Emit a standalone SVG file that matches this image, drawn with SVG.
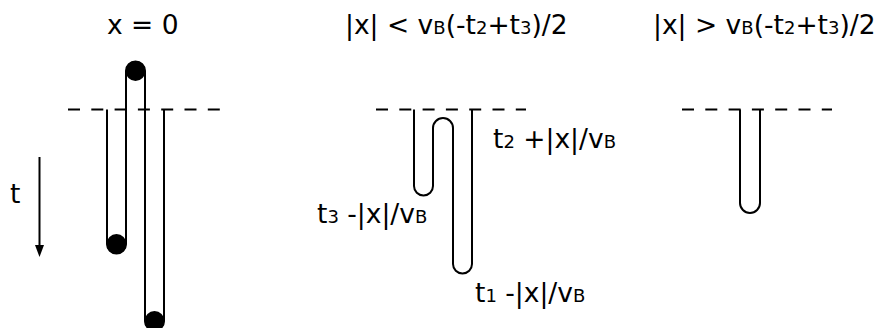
<svg xmlns="http://www.w3.org/2000/svg" width="874" height="328" viewBox="0 0 874 328">
<defs>
<style>
text{font-family:"DejaVu Sans","Liberation Sans",sans-serif;font-size:26.5px;fill:#000}
.s{font-size:18px}
.dash{stroke:#000;stroke-width:2;stroke-dasharray:12 11.3;fill:none}
.wl{stroke:#000;stroke-width:2;fill:none}
.dot{fill:#000}
</style>
<marker id="ah" viewBox="0 0 12 9" refX="0" refY="4.5" markerWidth="6" markerHeight="4.5" markerUnits="strokeWidth" orient="auto">
<path d="M0,0 L12,4.5 L0,9 Z" fill="#000"/>
</marker>
</defs>
<rect width="874" height="328" fill="#fff"/>
<g id="panel1">
<text x="107" y="34">x = 0</text>
<line class="dash" x1="68" y1="109.5" x2="220" y2="109.5"/>
<path class="wl" d="M107,109.5 V244 A9.5,9.5 0 0 0 126,244 V71 A9.5,9.5 0 0 1 145,71 V321 A9.5,9.5 0 0 0 164,321 V109.5"/>
<circle class="dot" cx="116.5" cy="244" r="10"/>
<circle class="dot" cx="135.5" cy="71" r="10"/>
<circle class="dot" cx="154.5" cy="321" r="10"/>
<text x="10" y="203">t</text>
<line x1="39.5" y1="157" x2="39.5" y2="245" stroke="#000" stroke-width="2" marker-end="url(#ah)"/>
</g>
<g id="panel2">
<text x="345" y="34">|x| &lt; v<tspan class="s">B</tspan>(-t<tspan class="s">2</tspan>+t<tspan class="s">3</tspan>)/2</text>
<line class="dash" x1="376" y1="109.5" x2="526" y2="109.5"/>
<path class="wl" d="M414,109.5 V186 A9.5,9.5 0 0 0 433,186 V128 A10,10 0 0 1 453,128 V264 A9.5,9.5 0 0 0 472,264 V109.5"/>
<text x="493" y="148">t<tspan class="s">2</tspan> +|x|/v<tspan class="s">B</tspan></text>
<text x="317" y="223">t<tspan class="s">3</tspan> -|x|/v<tspan class="s">B</tspan></text>
<text x="475" y="302">t<tspan class="s">1</tspan> -|x|/v<tspan class="s">B</tspan></text>
</g>
<g id="panel3">
<text x="653" y="34">|x| &gt; v<tspan class="s">B</tspan>(-t<tspan class="s">2</tspan>+t<tspan class="s">3</tspan>)/2</text>
<line class="dash" x1="682" y1="109.5" x2="832" y2="109.5"/>
<path class="wl" d="M740,109.5 V203 A10,10 0 0 0 760,203 V109.5"/>
</g>
</svg>
